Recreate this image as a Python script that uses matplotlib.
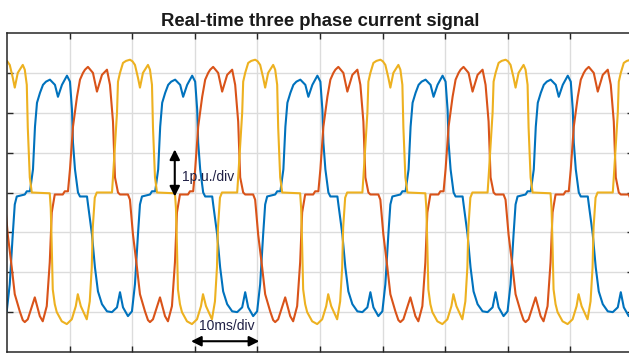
# three phase current scope trace
import numpy as np
import matplotlib.pyplot as plt

plt.rcParams['font.family'] = ['Liberation Sans', 'DejaVu Sans']

# one 20 ms cycle of each phase
# time in ms from the start of the positive lobe, current in p.u.
blue_t = [0.00, 0.48, 0.80, 1.12, 1.60, 2.08, 2.56, 3.19, 3.99, 4.47, 5.11, 5.91,
          6.39, 6.71, 6.87, 7.19, 7.67, 7.99, 9.11,
          9.27, 9.90, 10.38, 10.86, 11.50, 12.30, 13.10, 13.90, 14.38, 14.86, 15.65,
          16.29, 16.77, 17.25, 17.57, 17.89, 19.17, 19.49]
blue_i = [0.03, 0.58, 1.65, 2.25, 2.50, 2.70, 2.78, 2.83, 2.70, 2.40, 2.70, 2.93,
          2.78, 2.08, 1.25, 0.58, 0.00, -0.10, -0.10,
          -0.30, -1.05, -1.88, -2.48, -2.80, -2.98, -3.00, -2.88, -2.50, -2.88, -3.10,
          -2.98, -2.30, -1.05, -0.30, -0.10, -0.05, 0.03]

red_t = [0.00, 0.32, 0.80, 1.44, 1.92, 2.40, 2.72, 3.19, 3.99, 4.63, 5.43, 6.23,
         6.71, 7.19, 7.51, 7.99, 8.31, 9.58,
         9.90, 10.38, 11.02, 11.50, 12.30, 12.78, 13.10, 13.58, 14.70, 15.50, 15.97,
         16.61, 17.09, 17.41, 17.89, 19.17, 19.49]
red_i = [0.03, 0.58, 1.65, 2.40, 2.83, 3.00, 3.08, 3.15, 3.00, 2.53, 2.95, 3.08,
         2.70, 1.78, 0.38, 0.00, -0.05, -0.05,
         -0.18, -1.05, -1.88, -2.55, -2.98, -3.20, -3.25, -3.18, -2.63, -3.10, -3.23,
         -2.85, -1.75, -0.50, -0.05, -0.05, 0.03]

yellow_t = [0.00, 0.16, 0.48, 0.80, 0.96, 1.28, 1.76, 2.24, 2.88, 3.27, 3.67, 4.15,
            4.47, 4.95, 5.75, 6.07, 6.39, 6.55, 6.87, 7.19, 10.06,
            10.22, 10.38, 10.54, 10.86, 11.18, 11.98, 12.78, 13.58, 14.22, 14.54, 15.02,
            15.97, 16.45, 16.77, 16.93, 17.25, 17.57]
yellow_i = [0.00, 0.38, 1.20, 2.00, 2.78, 3.00, 3.25, 3.30, 3.33, 3.29, 3.20, 2.88,
            2.63, 3.00, 3.20, 3.08, 2.70, 1.63, 0.38, 0.00, -0.02,
            -0.40, -1.35, -2.43, -2.80, -3.00, -3.23, -3.30, -3.18, -2.85, -2.55, -2.85,
            -3.18, -2.73, -1.88, -0.88, -0.13, 0.00]

period = 20.0
# start of the first positive lobe of each phase (ms)
blue_start = 3.67
red_start = 9.74
yellow_start = 16.77

def trace(t_cyc, i_cyc, start):
    # repeat the measured cycle over the record
    t = np.concatenate([np.array(t_cyc) + start + k * period for k in range(-1, 6)])
    i = np.tile(i_cyc, 7)
    return t, i

fig = plt.figure(figsize=(6.29, 3.54), dpi=100)
ax = fig.add_axes([7 / 629, 2 / 354, 626 / 629, 319 / 354])

for t_cyc, i_cyc, start, col in [(blue_t, blue_i, blue_start, '#0072BD'),
                                 (red_t, red_i, red_start, '#D95319'),
                                 (yellow_t, yellow_i, yellow_start, '#EDB120')]:
    t, i = trace(t_cyc, i_cyc, start)
    ax.plot(t, i, color=col, lw=1.5)

ax.set_xlim(0, 100)
ax.set_ylim(-4, 4)
ax.set_xticks(np.arange(10, 100, 10))
ax.set_yticks(np.arange(-3, 4, 1))
ax.set_xticklabels([])
ax.set_yticklabels([])
ax.tick_params(direction='in', length=4, width=1, color='#262626',
               top=True, right=True)
ax.grid(True, color='#dcdcdc', lw=1)
ax.set_axisbelow(True)
for s in ax.spines.values():
    s.set_color('#262626')
    s.set_linewidth(1.1)

ax.set_title('Real-time three phase current signal', fontsize=13.3,
             fontweight='bold', color='#1a1a1a', pad=5)

# scale markers
ax.annotate('', xy=(26.8, 1.08), xytext=(26.8, -0.1),
            arrowprops=dict(arrowstyle='<|-|>,head_length=0.6,head_width=0.3',
                            color='black', lw=1.5, shrinkA=0, shrinkB=0))
ax.text(28.0, 0.38, '1p.u./div', fontsize=10, color='#202045',
        ha='left', va='center')
ax.annotate('', xy=(29.4, -3.73), xytext=(40.3, -3.73),
            arrowprops=dict(arrowstyle='<|-|>,head_length=0.6,head_width=0.3',
                            color='black', lw=1.5, shrinkA=0, shrinkB=0))
ax.text(35.1, -3.35, '10ms/div', fontsize=10, color='#202045',
        ha='center', va='center')

fig.savefig('out.png', dpi=100)
